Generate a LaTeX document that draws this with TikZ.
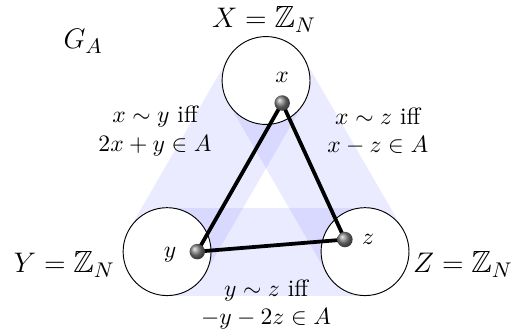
\documentclass[tikz,border=0pt]{standalone}
\usepackage{amssymb}
\usepackage{tikz}
\usetikzlibrary{calc}

\begin{document}
\begin{tikzpicture}[
	set/.style={circle, draw, fill=white, minimum size=1.31cm, inner sep=0pt},
	vert/.style={circle, shading=ball, ball color=gray, minimum size=0.23cm, inner sep=0pt},
	band/.style={fill=blue, fill opacity=0.08},
	edge/.style={line width=1.6pt},
	big/.style={font=\fontsize{13}{16}\selectfont, inner sep=0pt},
	rel/.style={align=center, inner sep=0pt}]
		\useasboundingbox (-2.49,-1.25) rectangle (5.17,3.75);
		\coordinate (cY) at (0,0);
		\coordinate (cZ) at (2.95,0);
		\coordinate (cX) at (1.475,2.55);
		% shaded bands between the sets
		\fill[band] ($(cX)!0.655cm!90:(cY)$) -- ($(cX)!0.655cm!-90:(cY)$) -- ($(cY)!0.655cm!90:(cX)$) -- ($(cY)!0.655cm!-90:(cX)$) -- cycle;
		\fill[band] ($(cX)!0.655cm!90:(cZ)$) -- ($(cX)!0.655cm!-90:(cZ)$) -- ($(cZ)!0.655cm!90:(cX)$) -- ($(cZ)!0.655cm!-90:(cX)$) -- cycle;
		\fill[band] ($(cY)!0.655cm!90:(cZ)$) -- ($(cY)!0.655cm!-90:(cZ)$) -- ($(cZ)!0.655cm!90:(cY)$) -- ($(cZ)!0.655cm!-90:(cY)$) -- cycle;
		\node[set] (X) at (cX) {};
		\node[set] (Y) at (cY) {};
		\node[set] (Z) at (cZ) {};
		\node (lx) at ($(X.center)+(0.24,0.04)$) {$x$};
		\node (ly) at ($(Y.center)+(0.045,-0.045)$) {$y$};
		\node (lz) at ($(Z.center)+(0.045,0.18)$) {$z$};
		% the triangle
		\coordinate (dx) at ($(X.center)+(0.24,-0.335)$);
		\coordinate (dy) at ($(Y.center)+(0.45,0)$);
		\coordinate (dz) at ($(Z.center)+(-0.30,0.18)$);
		\draw[edge] (dx) -- (dy);
		\draw[edge] (dx) -- (dz);
		\draw[edge] (dy) -- (dz);
		\node[vert] (vx) at (dx) {};
		\node[vert] (vy) at (dy) {};
		\node[vert] (vz) at (dz) {};
		% labels
		\node[big] (nX) at (1.445,3.46) {$X=\mathbb{Z}_N$};
		\node[big] (nY) at (-1.53,-0.19) {$Y=\mathbb{Z}_N$};
		\node[big] (nZ) at (4.41,-0.19) {$Z=\mathbb{Z}_N$};
		\node[big] (GA) at (-1.25,3.13) {$G_A$};
		\node[rel] (exy) at (-0.18,1.80) {$x\sim y$ iff\\ $2x+y\in A$};
		\node[rel] (exz) at (3.14,1.80) {$x\sim z$ iff\\ $x-z\in A$};
		\node[rel] (eyz) at (1.475,-0.79) {$y\sim z$ iff\\ $-y-2z\in A$};
	\end{tikzpicture}
\end{document}
